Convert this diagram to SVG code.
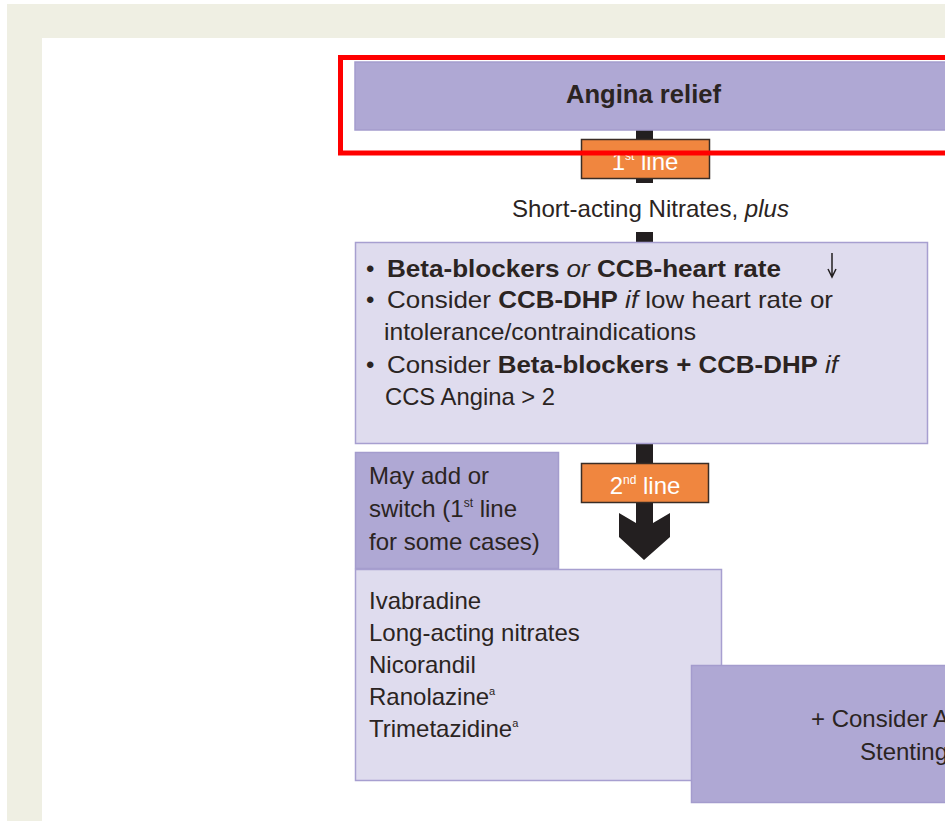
<svg xmlns="http://www.w3.org/2000/svg" width="945" height="821" viewBox="0 0 945 821">
<style>
text{font-family:"Liberation Sans","DejaVu Sans",sans-serif;fill:#2b2422}
.t{font-size:24px}
.b{font-weight:bold}
.i{font-style:italic}
.lbl{font-size:24px;fill:#ffffff}
.light{fill:#dfdcee;stroke:#a79fd0;stroke-width:1.5}
.mid{fill:#afa8d4;stroke:#a49ccd;stroke-width:1.5}
.tag{fill:#f0863f;stroke:#3a2d26;stroke-width:1.5}
.bar{fill:#231f20}
</style>
<rect x="0" y="0" width="945" height="821" fill="#ffffff"/>
<rect x="7" y="4" width="938" height="817" fill="#efefe3"/>
<rect x="42" y="38" width="903" height="783" fill="#ffffff"/>
<g id="connectors">
<rect class="bar" x="636" y="130" width="17" height="53"/>
<rect class="bar" x="636" y="232" width="17" height="11"/>
<polygon class="bar" points="636,444 653,444 653,523 670,513 670,537 644,560 619,537 619,513 636,523"/>
</g>
<g id="angina-relief">
<rect class="mid" x="355" y="62" width="600" height="68"/>
<text class="b" x="566" y="103" font-size="25" textLength="155" lengthAdjust="spacingAndGlyphs">Angina relief</text>
</g>
<g id="first-line">
<rect class="tag" x="581.5" y="139.5" width="128" height="39"/>
<text class="lbl" x="645" y="170" text-anchor="middle">1<tspan font-size="12" dy="-10">st</tspan><tspan dy="10"> line</tspan></text>
</g>
<g id="short-acting">
<text class="t" x="512" y="217" textLength="277" lengthAdjust="spacingAndGlyphs">Short-acting Nitrates, <tspan class="i">plus</tspan></text>
</g>
<g id="first-line-drugs">
<rect class="light" x="355.5" y="242.5" width="572" height="201"/>
<text class="t" x="366" y="277">•</text>
<text class="t" x="387" y="277" textLength="394" lengthAdjust="spacingAndGlyphs"><tspan class="b">Beta-blockers</tspan> <tspan class="i">or</tspan> <tspan class="b">CCB-heart rate</tspan></text>
<text class="t" x="366" y="308">•</text>
<text class="t" x="387" y="308" textLength="446" lengthAdjust="spacingAndGlyphs">Consider <tspan class="b">CCB-DHP</tspan> <tspan class="i">if</tspan> low heart rate or</text>
<text class="t" x="384" y="340" textLength="312" lengthAdjust="spacingAndGlyphs">intolerance/contraindications</text>
<text class="t" x="366" y="373">•</text>
<text class="t" x="387" y="373" textLength="451" lengthAdjust="spacingAndGlyphs">Consider <tspan class="b">Beta-blockers + CCB-DHP</tspan> <tspan class="i">if</tspan></text>
<text class="t" x="385" y="405" textLength="170" lengthAdjust="spacingAndGlyphs">CCS Angina &gt; 2</text>
<path d="M832 253 V276 M828 269 L832 277 L836 269" fill="none" stroke="#231f20" stroke-width="1.5"/>
</g>
<g id="second-line">
<rect class="tag" x="581.5" y="463.5" width="127" height="39"/>
<text class="lbl" x="645" y="494" text-anchor="middle">2<tspan font-size="12" dy="-10">nd</tspan><tspan dy="10"> line</tspan></text>
</g>
<g id="may-add">
<rect class="mid" x="355.5" y="452.5" width="203" height="116"/>
<text class="t" x="369" y="484">May add or</text>
<text class="t" x="369" y="517">switch (1<tspan font-size="12" dy="-10">st</tspan><tspan dy="10"> line</tspan></text>
<text class="t" x="369" y="550">for some cases)</text>
</g>
<g id="second-line-drugs">
<rect class="light" x="355.5" y="569.5" width="366" height="211"/>
<text class="t" x="369" y="609">Ivabradine</text>
<text class="t" x="369" y="641">Long-acting nitrates</text>
<text class="t" x="369" y="673">Nicorandil</text>
<text class="t" x="369" y="705">Ranolazine<tspan font-size="11" dy="-10">a</tspan></text>
<text class="t" x="369" y="737">Trimetazidine<tspan font-size="11" dy="-10">a</tspan></text>
</g>
<g id="consider">
<rect class="mid" x="691.5" y="665.5" width="270" height="137"/>
<text class="t" x="811" y="727">+ Consider A</text>
<text class="t" x="860" y="760">Stenting</text>
</g>
<rect x="340.5" y="57.5" width="620" height="95.5" fill="none" stroke="#ff0000" stroke-width="5"/>
</svg>
